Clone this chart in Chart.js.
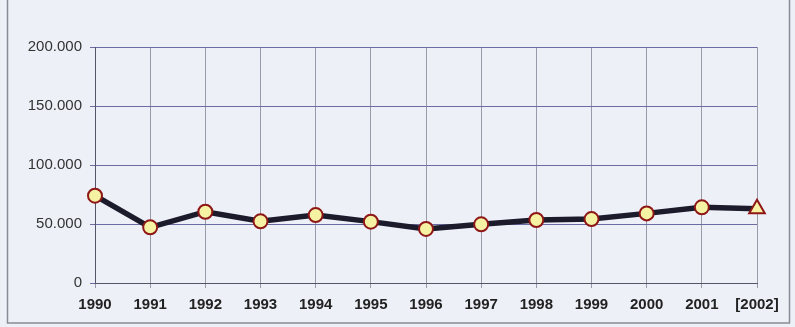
<!DOCTYPE html>
<html>
<head>
<meta charset="utf-8">
<script src="https://cdn.jsdelivr.net/npm/chart.js@4/dist/chart.umd.min.js"></script>
<style>
  html, body { margin: 0; padding: 0; background: #eef0f8; }
  #wrap { width: 795px; height: 327px; position: relative; }
</style>
</head>
<body>
<div id="wrap"><canvas id="chart"></canvas></div>
<script>
// yearly values
const years = ['1990', '1991', '1992', '1993', '1994', '1995', '1996', '1997', '1998', '1999', '2000', '2001', '[2002]'];
const values = [74000, 47200, 60400, 52300, 57600, 52000, 45800, 49700, 53400, 54200, 59000, 64100, 63000];
const yTicks = [0, 50000, 100000, 150000, 200000];

// last year is an estimate -> triangle
const pointStyles = years.map((y, i) => i === years.length - 1 ? 'triangle' : 'circle');
const pointSizes = years.map((y, i) => i === years.length - 1 ? 9 : 7);

function dots(n) {
    return String(n).replace(/\B(?=(\d{3})+(?!\d))/g, '.');
}

// outer frame
const frame = {
    id: 'frame',
    beforeDraw(chart) {
        const ctx = chart.ctx;
        ctx.save();
        ctx.fillStyle = '#eef0f8';
        ctx.fillRect(0, 0, chart.width, chart.height);
        ctx.strokeStyle = '#8a8a96';
        ctx.lineWidth = 1.5;
        ctx.strokeRect(7.5, -5, 782, 328);
        ctx.restore();
    }
};

const chart = document.querySelector('#chart').getContext('2d');

new Chart(chart, {
    type: 'line',
    data: {
        labels: years,
        datasets: [
            {
                data: values,
                borderColor: '#1b1b2c',
                borderWidth: 5.5,
                pointStyle: pointStyles,
                pointRadius: pointSizes,
                pointBackgroundColor: '#f6f2a4',
                pointBorderColor: '#8e1616',
                pointBorderWidth: 2,
                tension: 0
            }
        ]
    },
    options: {
        responsive: true,
        maintainAspectRatio: false,
        animation: false,
        layout: {
            padding: { top: 47, right: 38, left: 0, bottom: 0 }
        },
        plugins: {
            legend: { display: false },
            tooltip: { enabled: false }
        },
        scales: {
            x: {
                offset: false,
                afterFit: (scale) => { scale.height = 44; },
                grid: { color: '#9a9aaa', tickLength: 5, lineWidth: 1 },
                border: { color: '#55556a', width: 1 },
                ticks: {
                    color: '#222',
                    padding: 8,
                    maxRotation: 0,
                    autoSkip: false,
                    font: { family: 'Liberation Sans', size: 15, weight: 'bold' }
                }
            },
            y: {
                min: 0,
                max: 200000,
                afterFit: (scale) => { scale.width = 95; },
                afterBuildTicks: (scale) => { scale.ticks = yTicks.map(v => ({ value: v })); },
                grid: { color: '#6c6ca4', tickLength: 5, lineWidth: 1 },
                border: { color: '#55556a', width: 1 },
                ticks: {
                    color: '#333',
                    padding: 8,
                    font: { family: 'Liberation Sans', size: 15 },
                    callback: (v) => dots(v)
                }
            }
        }
    },
    plugins: [frame]
});
</script>
</body>
</html>
